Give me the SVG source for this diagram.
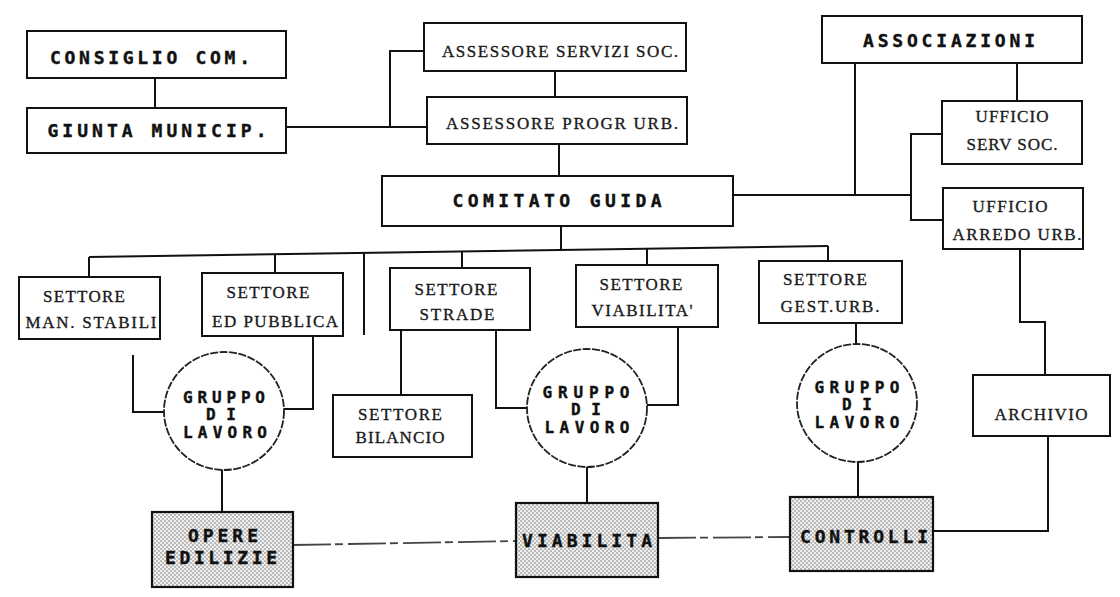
<svg xmlns="http://www.w3.org/2000/svg" width="1120" height="597" viewBox="0 0 1120 597">
<defs>
<pattern id="dots" width="4" height="4" patternUnits="userSpaceOnUse">
<rect width="4" height="4" fill="#efefef"/>
<circle cx="1" cy="1" r="0.75" fill="#6a6a6a"/>
<circle cx="3" cy="3" r="0.75" fill="#6a6a6a"/>
</pattern>
<style>
.box{fill:#fff;stroke:#111;stroke-width:2}
.shade{fill:url(#dots);stroke:#111;stroke-width:2.2}
.circ{fill:#fff;stroke:#222;stroke-width:1.8;stroke-dasharray:8 1.5}
.ln{fill:none;stroke:#111;stroke-width:2}
.dash{fill:none;stroke:#444;stroke-width:1.8;stroke-dasharray:38 4 8 5}
.mono{font-family:"DejaVu Sans Mono","Liberation Mono",monospace;font-weight:bold;font-size:18px;fill:#111;stroke:#111;stroke-width:0.4}
.gm{font-family:"DejaVu Sans Mono","Liberation Mono",monospace;font-weight:bold;font-size:16px;fill:#111;stroke:#111;stroke-width:0.4}
.ser{font-family:"Liberation Serif","DejaVu Serif",serif;font-size:17px;fill:#1a1a1a;stroke:#1a1a1a;stroke-width:0.35}
</style>
</defs>
<rect width="1120" height="597" fill="#fff"/>

<g id="connectors">
<line class="ln" x1="155" y1="78" x2="155" y2="108"/>
<polyline class="ln" points="286,127 390,127"/>
<polyline class="ln" points="424,51 390,51 390,127 427,127"/>
<line class="ln" x1="555" y1="71" x2="555" y2="97"/>
<line class="ln" x1="559" y1="144" x2="559" y2="176"/>
<line class="ln" x1="561" y1="226" x2="561" y2="250"/>
<line class="ln" x1="733" y1="195" x2="911" y2="195"/>
<line class="ln" x1="855" y1="63" x2="855" y2="195"/>
<line class="ln" x1="1017" y1="63" x2="1017" y2="101"/>
<polyline class="ln" points="942,134 911,134 911,220 943,220"/>
<polyline class="ln" points="1020,249 1020,322 1045,322 1045,375"/>
<line class="ln" x1="89" y1="257" x2="828" y2="246"/>
<line class="ln" x1="89" y1="257" x2="89" y2="277"/>
<line class="ln" x1="275" y1="254" x2="275" y2="273"/>
<line class="ln" x1="364" y1="253" x2="364" y2="335"/>
<line class="ln" x1="462" y1="251" x2="462" y2="268"/>
<line class="ln" x1="647" y1="249" x2="647" y2="265"/>
<line class="ln" x1="828" y1="246" x2="828" y2="261"/>
<polyline class="ln" points="133,355 133,412 164,412"/>
<polyline class="ln" points="313,336 313,409 283,409"/>
<line class="ln" x1="401" y1="330" x2="401" y2="395"/>
<polyline class="ln" points="496,330 496,408 527,408"/>
<polyline class="ln" points="678,327 678,405 647,405"/>
<line class="ln" x1="856" y1="323" x2="856" y2="344"/>
<line class="ln" x1="222" y1="470" x2="222" y2="512"/>
<line class="ln" x1="587" y1="467" x2="587" y2="503"/>
<line class="ln" x1="858" y1="462" x2="858" y2="497"/>
<polyline class="ln" points="1048,436 1048,531 933,531"/>
<line class="dash" x1="293" y1="545" x2="516" y2="541"/>
<line class="dash" x1="658" y1="538" x2="790" y2="537"/>
</g>

<g id="consiglio">
<rect class="box" x="27" y="31" width="259" height="47"/>
<text class="mono" x="150" y="64" text-anchor="middle" textLength="200" lengthAdjust="spacing">CONSIGLIO COM.</text>
</g>
<g id="giunta">
<rect class="box" x="27" y="108" width="259" height="45"/>
<text class="mono" x="157" y="137" text-anchor="middle" textLength="219" lengthAdjust="spacing">GIUNTA MUNICIP.</text>
</g>
<g id="assessore-servizi">
<rect class="box" x="424" y="23" width="262" height="48"/>
<text class="ser" x="560" y="57" text-anchor="middle" font-size="18" textLength="236" lengthAdjust="spacing">ASSESSORE SERVIZI SOC.</text>
</g>
<g id="assessore-progr">
<rect class="box" x="427" y="97" width="260" height="47"/>
<text class="ser" x="562" y="129" text-anchor="middle" font-size="18" textLength="232" lengthAdjust="spacing">ASSESSORE PROGR URB.</text>
</g>
<g id="comitato">
<rect class="box" x="382" y="176" width="351" height="50"/>
<text class="mono" x="557" y="207" text-anchor="middle" textLength="209" lengthAdjust="spacing">COMITATO GUIDA</text>
</g>
<g id="associazioni">
<rect class="box" x="822" y="16" width="260" height="47"/>
<text class="mono" x="949" y="47" text-anchor="middle" textLength="172" lengthAdjust="spacing">ASSOCIAZIONI</text>
</g>
<g id="ufficio-serv">
<rect class="box" x="942" y="101" width="140" height="63"/>
<text class="ser" x="1012" y="122" text-anchor="middle" textLength="73" lengthAdjust="spacing">UFFICIO</text>
<text class="ser" x="1012" y="150" text-anchor="middle" textLength="91" lengthAdjust="spacing">SERV SOC.</text>
</g>
<g id="ufficio-arredo">
<rect class="box" x="943" y="188" width="140" height="61"/>
<text class="ser" x="1010" y="212" text-anchor="middle" textLength="75" lengthAdjust="spacing">UFFICIO</text>
<text class="ser" x="1017" y="240" text-anchor="middle" textLength="129" lengthAdjust="spacing">ARREDO URB.</text>
</g>
<g id="settore-man">
<rect class="box" x="19" y="277" width="141" height="62"/>
<text class="ser" x="84" y="302" text-anchor="middle" textLength="82" lengthAdjust="spacing">SETTORE</text>
<text class="ser" x="91" y="328" text-anchor="middle" textLength="131" lengthAdjust="spacing">MAN. STABILI</text>
</g>
<g id="settore-ed">
<rect class="box" x="202" y="273" width="141" height="63"/>
<text class="ser" x="268" y="298" text-anchor="middle" textLength="83" lengthAdjust="spacing">SETTORE</text>
<text class="ser" x="275" y="327" text-anchor="middle" textLength="126" lengthAdjust="spacing">ED PUBBLICA</text>
</g>
<g id="settore-strade">
<rect class="box" x="390" y="268" width="140" height="62"/>
<text class="ser" x="456" y="295" text-anchor="middle" textLength="83" lengthAdjust="spacing">SETTORE</text>
<text class="ser" x="457" y="320" text-anchor="middle" textLength="75" lengthAdjust="spacing">STRADE</text>
</g>
<g id="settore-viabilita">
<rect class="box" x="576" y="265" width="142" height="62"/>
<text class="ser" x="641" y="290" text-anchor="middle" textLength="83" lengthAdjust="spacing">SETTORE</text>
<text class="ser" x="642" y="316" text-anchor="middle" textLength="101" lengthAdjust="spacing">VIABILITA'</text>
</g>
<g id="settore-gest">
<rect class="box" x="759" y="261" width="143" height="62"/>
<text class="ser" x="825" y="285" text-anchor="middle" textLength="84" lengthAdjust="spacing">SETTORE</text>
<text class="ser" x="830" y="312" text-anchor="middle" textLength="99" lengthAdjust="spacing">GEST.URB.</text>
</g>
<g id="settore-bilancio">
<rect class="box" x="333" y="395" width="139" height="62"/>
<text class="ser" x="400" y="420" text-anchor="middle" textLength="84" lengthAdjust="spacing">SETTORE</text>
<text class="ser" x="400" y="443" text-anchor="middle" textLength="89" lengthAdjust="spacing">BILANCIO</text>
</g>
<g id="archivio">
<rect class="box" x="973" y="375" width="137" height="61"/>
<text class="ser" x="1041" y="420" text-anchor="middle" textLength="93" lengthAdjust="spacing">ARCHIVIO</text>
</g>
<g id="gruppo-1">
<ellipse class="circ" cx="224" cy="411" rx="60" ry="59"/>
<text class="gm" x="224" y="403" text-anchor="middle" textLength="82" lengthAdjust="spacing">GRUPPO</text>
<text class="gm" x="221" y="420" text-anchor="middle" textLength="30" lengthAdjust="spacing">DI</text>
<text class="gm" x="225" y="438" text-anchor="middle" textLength="84" lengthAdjust="spacing">LAVORO</text>
</g>
<g id="gruppo-2">
<ellipse class="circ" cx="587" cy="408" rx="60" ry="59"/>
<text class="gm" x="586" y="398" text-anchor="middle" textLength="87" lengthAdjust="spacing">GRUPPO</text>
<text class="gm" x="586" y="415" text-anchor="middle" textLength="30" lengthAdjust="spacing">DI</text>
<text class="gm" x="587" y="433" text-anchor="middle" textLength="85" lengthAdjust="spacing">LAVORO</text>
</g>
<g id="gruppo-3">
<ellipse class="circ" cx="857" cy="403" rx="60" ry="59"/>
<text class="gm" x="857" y="393" text-anchor="middle" textLength="85" lengthAdjust="spacing">GRUPPO</text>
<text class="gm" x="857" y="410" text-anchor="middle" textLength="30" lengthAdjust="spacing">DI</text>
<text class="gm" x="857" y="428" text-anchor="middle" textLength="85" lengthAdjust="spacing">LAVORO</text>
</g>
<g id="opere">
<rect class="shade" x="152" y="512" width="141" height="75"/>
<text class="mono" x="223" y="542" text-anchor="middle" textLength="70" lengthAdjust="spacing">OPERE</text>
<text class="mono" x="221" y="564" text-anchor="middle" textLength="112" lengthAdjust="spacing">EDILIZIE</text>
</g>
<g id="viabilita">
<rect class="shade" x="516" y="503" width="142" height="74"/>
<text class="mono" x="587" y="547" text-anchor="middle" textLength="130" lengthAdjust="spacing">VIABILITA</text>
</g>
<g id="controlli">
<rect class="shade" x="790" y="497" width="143" height="74"/>
<text class="mono" x="864" y="543" text-anchor="middle" textLength="128" lengthAdjust="spacing">CONTROLLI</text>
</g>
</svg>
